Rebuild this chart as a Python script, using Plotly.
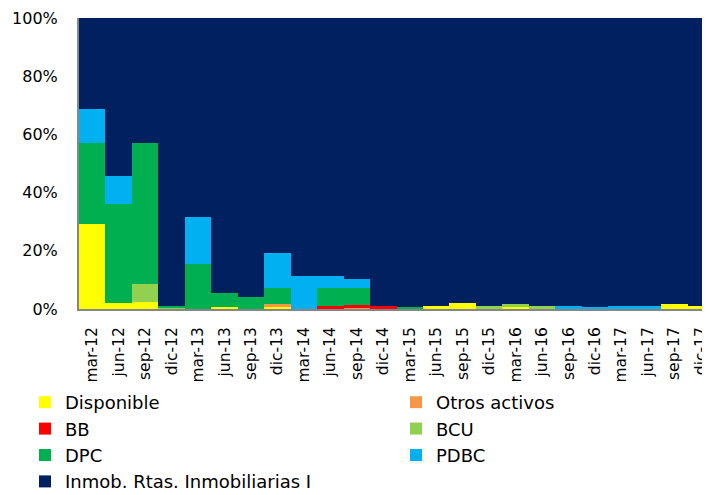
import plotly.graph_objects as go

categories = ["mar-12", "jun-12", "sep-12", "dic-12", "mar-13", "jun-13", "sep-13", "dic-13",
              "mar-14", "jun-14", "sep-14", "dic-14", "mar-15", "jun-15", "sep-15", "dic-15",
              "mar-16", "jun-16", "sep-16", "dic-16", "mar-17", "jun-17", "sep-17", "dic-17"]

disponible = [29.2, 2.0, 2.4, 0.3, 0, 0.7, 0, 0.8, 0, 0, 0, 0, 0, 0.9, 2.2, 0, 0.8, 0, 0, 0, 0, 0, 1.7, 1.0]
otros_activos = [0, 0, 0, 0, 0, 0, 0, 0.9, 0, 0, 0.2, 0, 0, 0, 0, 0, 0, 0, 0, 0, 0, 0, 0, 0]
bb = [0, 0, 0, 0, 0, 0, 0, 0, 0, 1.0, 1.2, 1.0, 0, 0, 0, 0, 0, 0, 0, 0, 0, 0, 0, 0]
bcu = [0, 0, 6.1, 0.2, 0, 0, 0, 0, 0, 0, 0, 0, 0, 0, 0, 1.0, 0.9, 1.0, 0, 0, 0, 0, 0, 0]
dpc = [27.8, 34.0, 48.4, 0.7, 15.3, 4.8, 4.1, 5.4, 0, 6.1, 5.7, 0, 0.8, 0, 0, 0, 0, 0, 0, 0, 0, 0, 0, 0]
pdbc = [11.7, 9.6, 0, 0, 16.3, 0, 0, 12.1, 11.3, 4.4, 3.1, 0, 0, 0, 0, 0, 0, 0, 1.0, 0.8, 1.0, 1.0, 0, 0]
inmob = [31.3, 54.4, 43.1, 98.8, 68.4, 94.5, 95.9, 80.8, 88.7, 88.5, 89.8, 99.0, 99.2, 99.1, 97.8, 99.0,
         98.3, 99.0, 99.0, 99.2, 99.0, 99.0, 98.3, 99.0]

y_tickvals = [0, 20, 40, 60, 80, 100]
y_ticktext = ["0%", "20%", "40%", "60%", "80%", "100%"]

series = [
    ("Disponible", disponible, "#FFFF00", "legend"),
    ("Otros activos", otros_activos, "#F79646", "legend2"),
    ("BB", bb, "#FF0000", "legend"),
    ("BCU", bcu, "#92D050", "legend2"),
    ("DPC", dpc, "#00B050", "legend"),
    ("PDBC", pdbc, "#00B0F0", "legend2"),
    ("Inmob. Rtas. Inmobiliarias I", inmob, "#002060", "legend"),
]

fig = go.Figure()
for name, vals, color, lg in series:
    fig.add_trace(go.Bar(x=categories, y=vals, name=name, legend=lg,
                         marker=dict(color=color, line=dict(width=0))))

font_family = "DejaVu Sans, Verdana, sans-serif"
fig.update_layout(
    width=710, height=495,
    barmode="stack", bargap=0,
    margin=dict(l=71, r=0, t=10, b=194, autoexpand=False),
    plot_bgcolor="white", paper_bgcolor="white",
    font=dict(family=font_family, size=16, color="#000000"),
    xaxis=dict(type="category", categoryorder="array", categoryarray=categories,
               range=[-0.5, 23.65], tickangle=-90, showgrid=False,
               showline=True, linecolor="#868686", linewidth=2, ticks="", ticklabelstandoff=10,
               tickfont=dict(size=15.5), automargin=False),
    yaxis=dict(range=[0, 100], tickmode="array", tickvals=y_tickvals, ticktext=y_ticktext,
               showgrid=False, showline=True, linecolor="#868686", linewidth=2, ticks="",
               ticklabelstandoff=16, tickfont=dict(size=16), zeroline=False, automargin=False),
    legend=dict(xref="container", yref="container", x=17/710, y=1 - 376/495, xanchor="left",
                yanchor="top", orientation="v", font=dict(size=18), bgcolor="rgba(0,0,0,0)",
                traceorder="normal"),
    legend2=dict(xref="container", yref="container", x=388/710, y=1 - 376/495, xanchor="left",
                 yanchor="top", orientation="v", font=dict(size=18), bgcolor="rgba(0,0,0,0)",
                 traceorder="normal"),
)

fig.write_html("out.html")
